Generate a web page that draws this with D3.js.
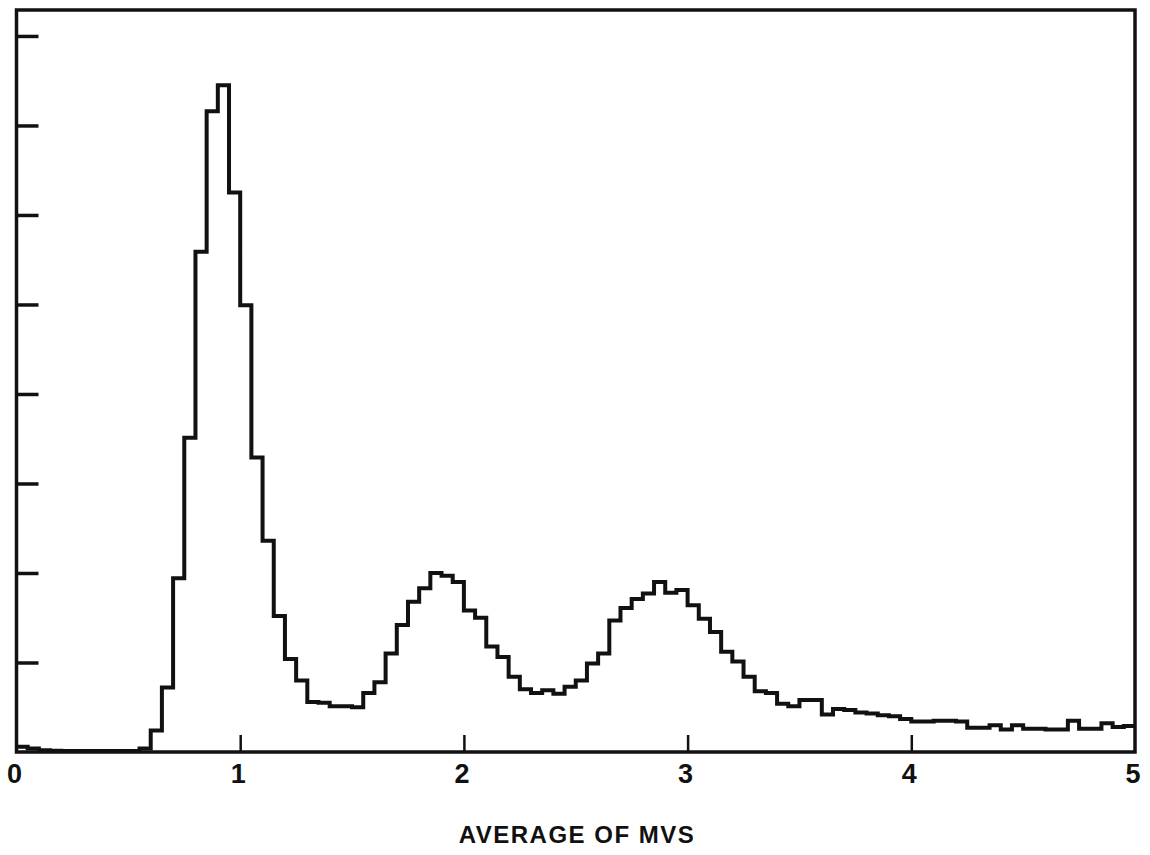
<!DOCTYPE html>
<html>
<head>
<meta charset="utf-8">
<script src="https://cdn.jsdelivr.net/npm/d3@7"></script>
<style>
  body { margin: 0; background: #fff; }
  svg text { font-family: "Liberation Sans", Arial, sans-serif; font-weight: bold; fill: #111; }
</style>
</head>
<body>
<div id="chart"></div>
<script>
// histogram of average MVS, bins 0.05 wide from 0 to 5
var binWidth = 0.05;
var counts = [
  6, 4, 2, 1.5, 1, 1, 1, 1, 1, 1,
  1, 4, 24, 72, 194, 351, 559, 716, 745, 625,
  499, 329, 236, 152, 104, 80, 56, 55, 51, 51,
  50, 66, 78, 110, 142, 168, 183, 200, 197, 190,
  158, 150, 118, 106, 84, 70, 66, 69, 65, 73,
  80, 99, 110, 147, 161, 171, 177, 190, 178, 181,
  164, 149, 134, 112, 101, 84, 68, 66, 54, 51,
  58, 58, 42, 48, 47, 44, 43, 41, 40, 37,
  34, 34, 35, 35, 34, 27, 27, 30, 25, 30,
  26, 26, 25, 25, 35, 26, 26, 32, 28, 29
];
var xTicks = [1, 2, 3, 4];
var xTickLabels = ["0", "1", "2", "3", "4", "5"];
var yTicks = [100, 200, 300, 400, 500, 600, 700, 800];
var xTitle = "AVERAGE OF MVS";

var width = 1150,
    height = 855;

var plotLeft = 16.5, plotRight = 1135, plotTop = 10, plotBottom = 752;

var x = d3.scaleLinear().domain([0, 5]).range([plotLeft, plotRight]);
var y = d3.scaleLinear().domain([0, 829]).range([plotBottom, plotTop]);

var svg = d3.select("#chart").append("svg")
    .attr("width", width)
    .attr("height", height);

// histogram as a stepped line
var pts = counts.map(function(c, i) { return [i * binWidth, c]; });
pts.push([counts.length * binWidth, counts[counts.length - 1]]);

var line = d3.line()
    .x(function(d) { return x(d[0]); })
    .y(function(d) { return y(d[1]); })
    .curve(d3.curveStepAfter);

svg.append("path")
    .datum(pts)
    .attr("d", line)
    .attr("fill", "none")
    .attr("stroke", "#111")
    .attr("stroke-width", 4)
    .attr("stroke-linejoin", "miter");

// frame
svg.append("rect")
    .attr("x", plotLeft)
    .attr("y", plotTop)
    .attr("width", plotRight - plotLeft)
    .attr("height", plotBottom - plotTop)
    .attr("fill", "none")
    .attr("stroke", "#111")
    .attr("stroke-width", 3.5);

// inward ticks
var xAxis = svg.append("g")
    .attr("transform", "translate(0," + plotBottom + ")")
    .call(d3.axisBottom(x).tickValues(xTicks).tickSize(-17).tickFormat(""));
xAxis.select(".domain").remove();
xAxis.selectAll("line").attr("stroke", "#111").attr("stroke-width", 2.5);

var yAxis = svg.append("g")
    .attr("transform", "translate(" + plotLeft + ",0)")
    .call(d3.axisLeft(y).tickValues(yTicks).tickSize(-22).tickFormat(""));
yAxis.select(".domain").remove();
yAxis.selectAll("line").attr("stroke", "#111").attr("stroke-width", 3.5);

// tick labels
svg.append("g").selectAll("text")
    .data(xTickLabels)
    .enter()
    .append("text")
    .attr("x", function(d, i) { return x(i) - 2; })
    .attr("y", 783)
    .attr("text-anchor", "middle")
    .style("font-size", "27px")
    .text(function(d) { return d; });

svg.append("text")
    .attr("x", 577)
    .attr("y", 843)
    .attr("text-anchor", "middle")
    .style("font-size", "24px")
    .style("letter-spacing", "1.5px")
    .text(xTitle);
</script>
</body>
</html>
